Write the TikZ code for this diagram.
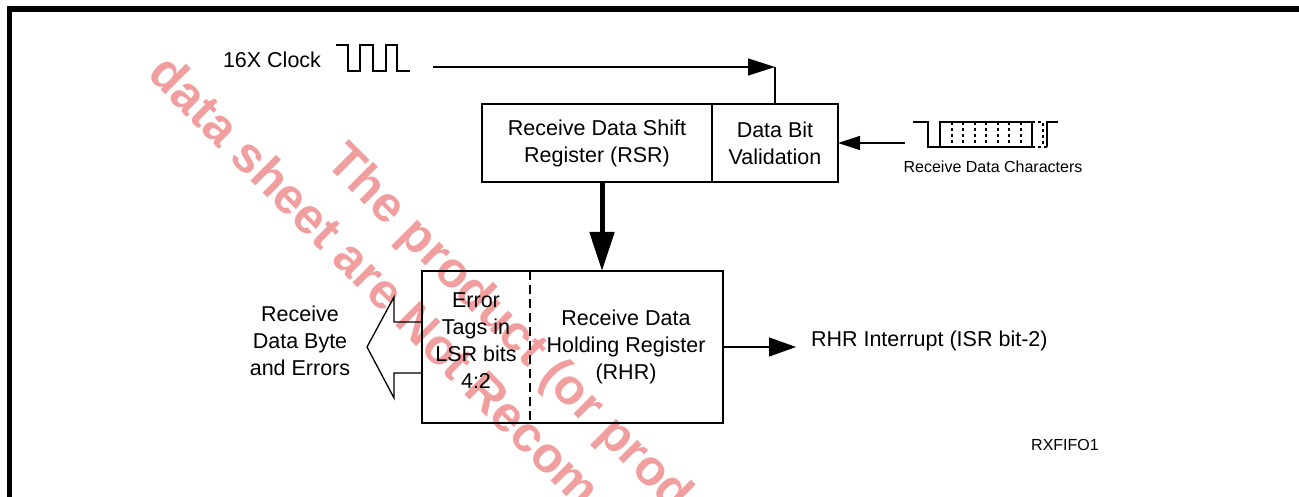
\documentclass[tikz,border=0pt]{standalone}
\usepackage{fontspec}
\setmainfont{Liberation Sans}
\usetikzlibrary{arrows.meta,calc,positioning}
\definecolor{SheetInk}{HTML}{000000}
\definecolor{SheetStamp}{RGB}{240,158,158}
\newcommand{\labelsize}{\fontsize{21.5}{27}\selectfont}
\newcommand{\tinysize}{\fontsize{16}{19}\selectfont}
\newcommand{\stampsize}{\fontsize{50}{60}\selectfont\bfseries}
\tikzset{
  every node/.style={font=\labelsize, text=SheetInk, inner sep=0pt, outer sep=0pt},
  regbox/.style={draw=SheetInk, line width=1.3pt, minimum height=78pt, align=center},
  signal/.style={draw=SheetInk, line width=1.3pt},
  tagline/.style={draw=SheetInk, line width=1.3pt, dash pattern=on 9pt off 5pt},
  heavy/.style={-{Triangle[length=39pt,width=24pt]}, draw=SheetInk, line width=5pt},
  stamp/.style={font=\stampsize, text=SheetStamp, rotate=-45, anchor=base west},
}
\begin{document}
\begin{tikzpicture}[x=1pt,y=-1pt]
  \useasboundingbox (0,0) rectangle (1299,497);
  % Watermark, cut off by the page
  \begin{scope}
    \clip (0,0) rectangle (1299,497);
    \node[stamp] (stampa) at (146,76) {data sheet are Not Recom};
    \node[stamp] (stampb) at (324,164) {The product (or prod};
  \end{scope}
  % Frame
  \fill[SheetInk] (7,6) rectangle (1299,12);
  \fill[SheetInk] (7,6) rectangle (12,497);
  % Shift register and bit validation
  \node[regbox, minimum width=230pt] (rsr) at (597,143) {Receive Data Shift\\Register (RSR)};
  \node[regbox, minimum width=126pt, right=0pt of rsr] (dbv) {Data Bit\\Validation};
  % Clock input
  \node (clk) at (272,60) {16X Clock};
  \draw[signal] (336,45) -- (348,45) -- (348,71) -- (360,71) -- (360,45) -- (373,45) -- (373,71)
    -- (386,71) -- (386,45) -- (397,45) -- (397,71) -- (410,71);
  \coordinate (clkin) at (433,67);
  \draw[signal, -{Triangle[length=27pt,width=17pt]}] (clkin) -- (clkin -| dbv.north);
  \draw[signal] (clkin -| dbv.north) -- (dbv.north);
  % Serial data input
  \coordinate (rxin) at (905,143);
  \draw[signal, -{Triangle[length=22pt,width=14pt]}] (rxin) -- (dbv.east);
  \draw[signal] (913,122) -- (928,122) -- (928,147) -- (1032,147);
  \draw[signal] (940,147) -- (940,122) -- (1032,122) -- (1032,147);
  \foreach \x in {952,963,975,986,998,1009,1021}
    \draw[signal, dash pattern=on 3pt off 3pt] (\x,122) -- (\x,147);
  \draw[signal, dash pattern=on 3pt off 3pt] (1032,122) -- (1043,122) -- (1043,147);
  \draw[signal, dash pattern=on 3pt off 3pt] (1032,147) -- (1047,147);
  \draw[signal] (1047,147) -- (1047,122) -- (1058,122);
  \node[font=\tinysize] (rxtxt) at (993,167) {Receive Data Characters};
  % Holding register
  \node[regbox, minimum width=301pt, minimum height=152pt] (rhr) at (572.5,347) {};
  \draw[tagline] ([xshift=108pt]rhr.north west) -- ([xshift=108pt]rhr.south west);
  \node[align=center] (errtag) at (476,341) {Error\\Tags in\\LSR bits\\4:2};
  \node[align=center] (rhrtxt) at (626,347) {Receive Data\\Holding Register\\(RHR)};
  \draw[heavy] ([xshift=5pt]rsr.south) -- ([xshift=5pt]rsr.south |- rhr.north);
  % Output to the left
  \draw[signal, line join=miter] (rhr.west) ++(0,-25) -- ++(-28,0) -- ++(0,-25) -- ++(-27,50)
    -- ++(27,51) -- ++(0,-25) -- ++(28,0);
  \node[align=center] (rdbyte) at (300,341) {Receive\\Data Byte\\and Errors};
  % Interrupt
  \node[anchor=west] (rhrint) at (811,341) {RHR Interrupt (ISR bit-2)};
  \draw[signal, -{Triangle[length=27pt,width=19pt]}] (rhr.east) -- ([xshift=-15pt]rhr.east -| rhrint.west);
  \node[font=\tinysize] (figid) at (1065,445) {RXFIFO1};
\end{tikzpicture}
\end{document}
